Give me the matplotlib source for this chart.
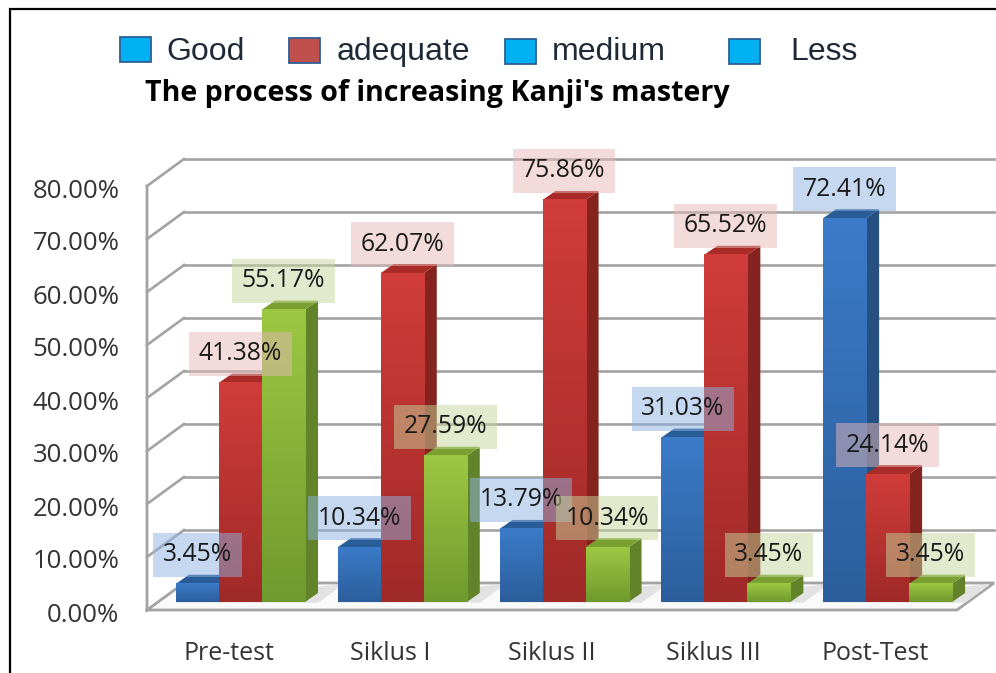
import matplotlib
matplotlib.use('Agg')
import matplotlib.pyplot as plt
import numpy as np
from matplotlib.colors import LinearSegmentedColormap
from matplotlib.patches import Rectangle
from matplotlib.transforms import ScaledTranslation

W, H = 996, 673

categories = ['Pre-test', 'Siklus I', 'Siklus II', 'Siklus III', 'Post-Test']
good = [3.45, 10.34, 13.79, 31.03, 72.41]
adequate = [41.38, 62.07, 75.86, 65.52, 24.14]
medium = [55.17, 27.59, 10.34, 3.45, 3.45]
yticks = [0, 10, 20, 30, 40, 50, 60, 70, 80]
legend_names = ['Good', 'adequate', 'medium', 'Less']

plt.rcParams['font.family'] = ['Open Sans', 'DejaVu Sans']


def px_x(x):
    return x / W


def px_y(y):
    return 1 - y / H


fig = plt.figure(figsize=(W / 100, H / 100), dpi=100, facecolor='white')

# axes span the plane the bars stand on: 5.3 px per percent, 161.75 px per group
ax_left, ax_right = 159.6, 968.5
ax_bottom, ax_top = 602, 178
ax = fig.add_axes([px_x(ax_left), px_y(ax_bottom), (ax_right - ax_left) / W, (ax_bottom - ax_top) / H])
ax.set_facecolor('none')
for s in ax.spines.values():
    s.set_visible(False)

ux = 5 / (ax_right - ax_left)   # data units per pixel
uy = 80 / (ax_bottom - ax_top)
x0 = -0.5 - (ax_left - 147) * ux  # front left corner of the floor
x1 = 4.5 - (ax_right - 957) * ux  # front right corner
front = 8 * uy     # front edge is below the bar plane
dx, dy = 37 * ux, 27 * uy

grid_col = '#A3A3A3'
for v in yticks:
    y = v - front
    if v == 0:
        continue
    ax.plot([x0, x0 + dx], [y, y + dy], color=grid_col, lw=1.9, clip_on=False, zorder=1)
    ax.plot([x0 + dx, x1 + dx], [y + dy, y + dy], color=grid_col, lw=1.9, clip_on=False, zorder=1)

# floor and left wall edge
ax.fill([x0, x1, x1 + dx, x0 + dx], [-front, -front, dy - front, dy - front], color='#FAFAFA', clip_on=False, zorder=1)
ax.plot([x0, x0, x0 + dx, x1 + dx, x1, x0], [80 - front, -front, dy - front, dy - front, -front, -front],
        color=grid_col, lw=2, clip_on=False, zorder=2, solid_joinstyle='miter')

width = 43 / 161.75
sx, sy = 13 * ux, 9 * uy

series = [
    (good, '#3B7BC8', '#2C5E9C', '#26507F', '#2A5C98'),
    (adequate, '#D03C39', '#A02A28', '#85241F', '#A82B28'),
    (medium, '#9CC742', '#6F9A2E', '#63832B', '#7BA032'),
]
offsets = [-width, 0, width]
boxes = ['#8DB3E2', '#E6B8B7', '#C4D79B']
ramp = np.linspace(1, 0, 64).reshape(-1, 1)

z = 3
tops = []
for g in range(len(categories)):
    # shadow on the floor next to the group
    gx = g + width * 1.5
    ax.fill([g - width * 1.5, gx + 2.8 * sx, gx + sx], [0, 1.9 * sy, 0], color='#E2E2E2', zorder=2, clip_on=False)
    for (vals, c_top, c_bot, c_side, c_cap), off, box in zip(series, offsets, boxes):
        v = vals[g]
        x = g + off
        l, r = x - width / 2, x + width / 2
        ax.fill([r, r + sx, r + sx, r], [0, sy, v + sy, v], color=c_side, lw=0, zorder=z, clip_on=False)
        ax.fill([l, r, r + sx, l + sx], [v, v, v + sy, v + sy], color=c_cap, lw=0, zorder=z, clip_on=False)
        ax.bar(x, v, width=width, color=c_bot, lw=0, zorder=z)
        cmap = LinearSegmentedColormap.from_list('f', [c_bot, c_top])
        ax.imshow(ramp, extent=[l, r, 0, v], aspect='auto', cmap=cmap, vmin=0, vmax=1,
                  interpolation='bilinear', zorder=z)
        z += 1
        tops.append((x, v, box))

for x, v, box in tops:
    ax.annotate(f'{v:.2f}%', (x, v), xytext=(0, 32), textcoords='offset pixels', ha='center', va='center_baseline',
                fontsize=17.8, color='#1A1A1A', zorder=100,
                bbox=dict(boxstyle='square,pad=0.385', fc=box, ec='none', alpha=0.5))

ax.set_xlim(-0.5, 4.5)
ax.set_ylim(0, 80)
ax.set_xticks(range(len(categories)))
ax.set_xticklabels(categories, fontsize=18, color='#333333')
ax.set_yticks(yticks)
ax.set_yticklabels([f'{v:.2f}%' for v in yticks], fontsize=18.5, color='#333333')
ax.tick_params(length=0)
ax.tick_params(axis='x', pad=28)
ax.tick_params(axis='y', pad=29)

ytrans = ScaledTranslation(0, -10 / 100, fig.dpi_scale_trans)
for lab in ax.get_yticklabels():
    lab.set_transform(lab.get_transform() + ytrans)
xtrans = ScaledTranslation(-12 / 100, 0, fig.dpi_scale_trans)
for lab in ax.get_xticklabels():
    lab.set_transform(lab.get_transform() + xtrans)

# legend, laid out by hand because the spacing is uneven
swatches = [(120, 37, '#00B0F0'), (289, 38, '#C0504D'), (505, 39, '#00B0F0'), (729, 39, '#00B0F0')]
text_x = [166, 337, 552, 790]
for (sx0, sy0, col), name, tx in zip(swatches, legend_names, text_x):
    fig.add_artist(Rectangle((px_x(sx0), px_y(sy0 + 25)), 31 / W, 25 / H, transform=fig.transFigure,
                             fc=col, ec='#2F5F96', lw=1.3))
    fig.text(px_x(tx), px_y(60), name, fontsize=23, color='#1F2A38', ha='left', va='baseline',
             family='Liberation Sans')

fig.text(px_x(145), px_y(101), "The process of increasing Kanji's mastery", fontsize=20.6, fontweight='bold',
         color='black', ha='left', va='baseline')

# outer frame of the pasted picture
fig.add_artist(plt.Line2D([px_x(10), px_x(10), px_x(996)], [px_y(673), px_y(9), px_y(9)], color='black', lw=1.6,
                          transform=fig.transFigure, solid_joinstyle='miter'))

fig.savefig('out.png', dpi=100)
